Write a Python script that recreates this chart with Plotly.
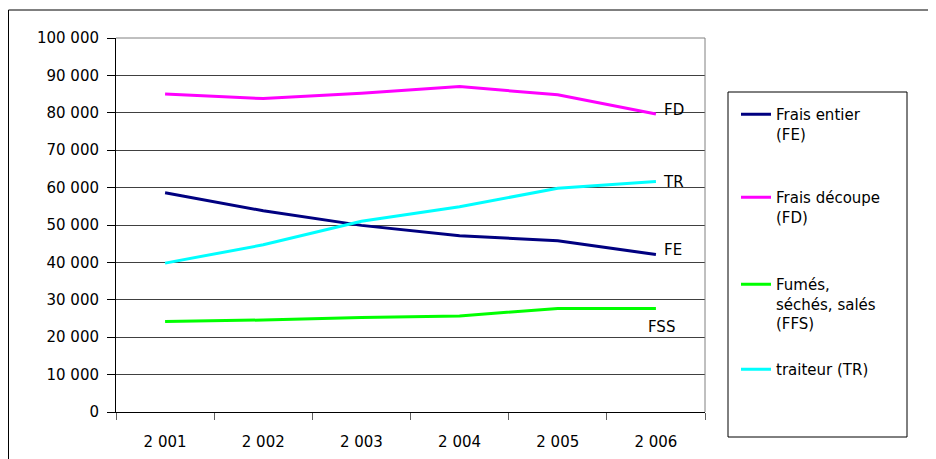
import plotly.graph_objects as go

# ---- data ----
years = ["2 001", "2 002", "2 003", "2 004", "2 005", "2 006"]
frais_entier = [58600, 53800, 49900, 47100, 45800, 42100]
frais_decoupe = [85000, 83800, 85200, 87000, 84800, 79700]
fumes_seches_sales = [24200, 24600, 25300, 25700, 27700, 27700]
traiteur = [39800, 44700, 51000, 54900, 59800, 61600]

series_names = ["Frais entier<br>(FE)", "Frais découpe<br>(FD)",
                "Fumés,<br>séchés, salés<br>(FFS)", "traiteur (TR)"]
end_labels = ["FE", "FD", "FSS", "TR"]
colors = ["#000080", "#FF00FF", "#00FF00", "#00FFFF"]
series_values = [frais_entier, frais_decoupe, fumes_seches_sales, traiteur]

# ---- layout geometry ----
# screen positions (the page body has an 8px margin, so the figure is drawn at +8,+8)
W, H = 936, 459
OFF = 8
L, R, T, B = 116, 705, 38, 412   # plot area in screen pixels


def px(x):
    return (x - L) / (R - L)


def py(y):
    return (B - y) / (B - T)


FONT = dict(family="DejaVu Sans, Arial, sans-serif", size=15, color="black")

legend_ids = ["legend", "legend2", "legend3", "legend4"]
legend_item_centers = [114, 197, 284, 369]
# label offsets (xanchor, xshift, yshift)
label_offsets = [("left", 6, 5), ("left", 6, 4), ("left", -10, -19), ("left", 5, 0)]

fig = go.Figure()
for name, vals, col, lid in zip(series_names, series_values, colors, legend_ids):
    fig.add_trace(go.Scatter(x=years, y=vals, mode="lines", name=name,
                             line=dict(color=col, width=3), legend=lid,
                             hoverinfo="skip"))

annotations = []
for lab, vals, (xa, xs, ys) in zip(end_labels, series_values, label_offsets):
    annotations.append(dict(x=years[-1], y=vals[-1], xref="x", yref="y",
                            text=lab, showarrow=False, xanchor=xa, yanchor="middle",
                            xshift=xs, yshift=ys, font=FONT))

legends = {}
for lid, cy in zip(legend_ids, legend_item_centers):
    legends[lid] = dict(x=px(736), xanchor="left", y=py(cy - 16), yanchor="top",
                        bgcolor="rgba(0,0,0,0)", borderwidth=0, font=FONT,
                        valign="top", itemclick=False, itemdoubleclick=False)

shapes = [
    # outer chart border (right and bottom edges fall outside the picture)
    dict(type="rect", xref="paper", yref="paper", x0=px(8.5), x1=px(1000),
         y0=py(520), y1=py(10), line=dict(color="black", width=1), layer="above"),
    # plot area border (top and right)
    dict(type="line", xref="paper", yref="paper", x0=0, x1=1, y0=1, y1=1,
         line=dict(color="#808080", width=1), layer="above"),
    dict(type="line", xref="paper", yref="paper", x0=1, x1=1, y0=0, y1=1,
         line=dict(color="#808080", width=1), layer="above"),
    # legend box
    dict(type="rect", xref="paper", yref="paper", x0=px(728), x1=px(907),
         y0=py(437), y1=py(92), line=dict(color="black", width=1), layer="above"),
]

fig.update_layout(
    width=W, height=H, autosize=False,
    margin=dict(l=L - OFF, r=W - (R - OFF), t=T - OFF, b=H - (B - OFF), pad=0),
    paper_bgcolor="white", plot_bgcolor="white",
    font=FONT, separators=", ",
    showlegend=True,
    annotations=annotations, shapes=shapes,
    xaxis=dict(type="category", range=[-0.5, 5.5], tickson="boundaries",
               ticks="outside", ticklen=7, tickcolor="#606060", tickwidth=1,
               showline=True, linecolor="black", linewidth=1, showgrid=False,
               ticklabelstandoff=16, tickfont=FONT, fixedrange=True),
    yaxis=dict(range=[0, 100000], dtick=10000, tick0=0, tickformat=",d",
               ticks="outside", ticklen=8, tickcolor="black", tickwidth=1,
               showline=True, linecolor="black", linewidth=1,
               showgrid=True, gridcolor="#404040", gridwidth=1, zeroline=False,
               ticklabelstandoff=5, tickfont=FONT, fixedrange=True),
    **legends,
)

fig.write_html("out.html")
